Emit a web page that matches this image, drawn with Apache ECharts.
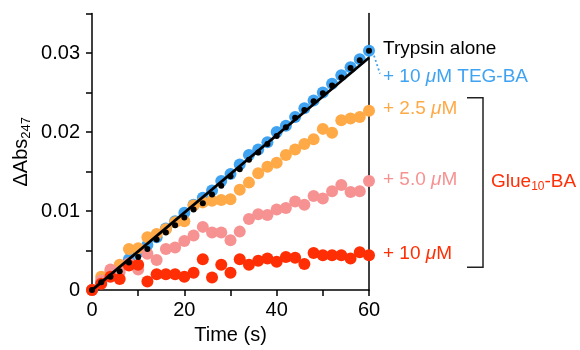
<!DOCTYPE html>
<html>
<head>
<meta charset="utf-8">
<script src="https://cdn.jsdelivr.net/npm/echarts@6/dist/echarts.min.js"></script>
<style>
  html, body { margin: 0; padding: 0; background: #fff; }
  #chart { width: 580px; height: 350px; }
</style>
</head>
<body>
<div id="chart"></div>
<script>
// time points (s)
const times = [0, 2, 4, 6, 8, 10, 12, 14, 16, 18, 20, 22, 24, 26, 28, 30,
  32, 34, 36, 38, 40, 42, 44, 46, 48, 50, 52, 54, 56, 58, 60];

const trypsinAlone = [0, 0.0010, 0.0017, 0.0024, 0.0035, 0.0042, 0.0052, 0.0064, 0.0073, 0.0082, 0.0092,
  0.0102, 0.0110, 0.0121, 0.0132, 0.0144, 0.0153, 0.0165, 0.0174, 0.0185, 0.0195,
  0.0206, 0.0218, 0.0228, 0.0239, 0.0249, 0.0259, 0.0269, 0.0281, 0.0291, 0.0303];

const tegBA10 = [0, 0.0010, 0.0020, 0.0030, 0.0039, 0.0048, 0.0057, 0.0067, 0.0078, 0.0087, 0.0098,
  0.0108, 0.0117, 0.0126, 0.0138, 0.0147, 0.0159, 0.0171, 0.0178, 0.0187, 0.0200,
  0.0208, 0.0219, 0.0230, 0.0240, 0.0250, 0.0261, 0.0272, 0.0282, 0.0292, 0.0303];

const glue2_5 = [0, 0.0017, 0.0024, 0.0032, 0.0052, 0.0053, 0.0067, 0.0071, 0.0077, 0.0086, 0.0087,
  0.0107, 0.0111, 0.0113, 0.0114, 0.0115, 0.0127, 0.0136, 0.0148, 0.0156, 0.0161,
  0.0171, 0.0178, 0.0185, 0.0191, 0.0204, 0.0199, 0.0215, 0.0217, 0.0219, 0.0227];

const glue5_0 = [0, 0.0012, 0.0026, 0.0023, 0.0034, 0.0026, 0.0046, 0.0038, 0.0052, 0.0054, 0.0062,
  0.0069, 0.0080, 0.0073, 0.0073, 0.0063, 0.0074, 0.0090, 0.0096, 0.0095, 0.0102,
  0.0104, 0.0112, 0.0108, 0.0119, 0.0116, 0.0125, 0.0133, 0.0124, 0.0125, 0.0138];

const glue10 = [0, 0.0008, 0.0017, 0.0014, 0.0031, 0.0032, 0.0011, 0.0020, 0.0020, 0.0020, 0.0017,
  0.0022, 0.0039, 0.0016, 0.0032, 0.0022, 0.0039, 0.0032, 0.0037, 0.0040, 0.0036,
  0.0042, 0.0041, 0.0033, 0.0047, 0.0044, 0.0044, 0.0044, 0.0040, 0.0048, 0.0044];

// linear fit of trypsin alone
const fitTimes = [0, 60];
const fitValues = [0, 0.0294];

const yTickLabels = ['0', '0.01', '0.02', '0.03'];
const xTickLabels = ['0', '20', '40', '60'];

const FONT = '"Liberation Sans", Arial, sans-serif';
const colors = {
  black: '#000000',
  blue: '#3FA3F2',
  orange: '#FFA947',
  pink: '#F79292',
  red: '#FF2E05'
};

const pairs = (xs, ys) => xs.map((t, i) => [t, ys[i]]);

const chart = echarts.init(document.getElementById('chart'), null, { renderer: 'canvas' });

const dots = (name, values, color, size, z) => ({
  name,
  type: 'scatter',
  data: pairs(times, values),
  symbolSize: size,
  itemStyle: { color, opacity: 1 },
  z,
  clip: false,
  silent: true
});

const option = {
  animation: false,
  textStyle: { fontFamily: FONT },
  grid: { left: 92, right: 211, top: 13.5, bottom: 59 },
  xAxis: {
    type: 'value',
    min: 0,
    max: 60,
    interval: 10,
    name: 'Time (s)',
    nameLocation: 'middle',
    nameGap: 33,
    nameTextStyle: { fontSize: 20, color: '#000', fontFamily: FONT },
    axisLine: { onZero: false, lineStyle: { color: '#000', width: 1.5 } },
    axisTick: { inside: false, length: 6, lineStyle: { color: '#000', width: 1.5 } },
    axisLabel: {
      fontSize: 20,
      color: '#000',
      margin: 10,
      fontFamily: FONT,
      formatter: (v) => {
        const s = String(Math.round(v));
        return xTickLabels.includes(s) ? s : '';
      }
    },
    splitLine: { show: false }
  },
  yAxis: [
    {
      type: 'value',
      min: 0,
      max: 0.035,
      interval: 0.005,
      name: '{a|ΔAbs}{s|247}',
      nameLocation: 'middle',
      nameGap: 59,
      nameTextStyle: {
        color: '#000',
        rich: {
          a: { fontSize: 20, fontFamily: FONT, color: '#000', lineHeight: 24 },
          s: { fontSize: 13, fontFamily: FONT, color: '#000', lineHeight: 14, verticalAlign: 'bottom' }
        }
      },
      axisLine: { show: true, lineStyle: { color: '#000', width: 1.5 } },
      axisTick: { show: true, inside: false, length: 6, lineStyle: { color: '#000', width: 1.5 } },
      axisLabel: {
        fontSize: 20,
        color: '#000',
        margin: 12,
        fontFamily: FONT,
        formatter: (v) => {
          const k = Math.round(v * 1000);
          if (k % 10 !== 0) return '';
          return yTickLabels[k / 10] || '';
        }
      },
      splitLine: { show: false }
    },
    {
      type: 'value',
      position: 'right',
      min: 0,
      max: 0.035,
      axisLine: { show: true, lineStyle: { color: '#000', width: 1.5 } },
      axisTick: { show: false },
      axisLabel: { show: false },
      splitLine: { show: false }
    }
  ],
  series: [
    dots('+ 10 μM TEG-BA', tegBA10, colors.blue, 12, 2),
    dots('+ 2.5 μM', glue2_5, colors.orange, 12, 3),
    dots('+ 5.0 μM', glue5_0, colors.pink, 12, 4),
    dots('+ 10 μM', glue10, colors.red, 12, 5),
    {
      name: 'fit',
      type: 'line',
      data: pairs(fitTimes, fitValues),
      showSymbol: false,
      lineStyle: { color: colors.black, width: 2.8 },
      z: 6,
      silent: true
    },
    dots('Trypsin alone', trypsinAlone, colors.black, 6, 7)
  ]
};

chart.setOption(option);

// end-of-curve labels, anchored to each series' last point
const last = times.length - 1;
const px = (v) => chart.convertToPixel({ gridIndex: 0 }, [times[last], v]);
const pBlack = px(trypsinAlone[last]);
const pOrange = px(glue2_5[last]);
const pPink = px(glue5_0[last]);
const pRed = px(glue10[last]);

const labelX = pBlack[0] + 14;
const label = (y, text, color, rich) => ({
  type: 'text',
  left: labelX,
  top: y - 11,
  z: 10,
  style: {
    text,
    fill: color,
    font: '19px ' + FONT,
    rich: rich
  }
});
const muRich = (color) => ({
  i: { fontStyle: 'italic', fontSize: 19, fontFamily: FONT, fill: color, color }
});

chart.setOption({
  graphic: [
    label(pBlack[1], 'Trypsin alone', colors.black),
    label(pBlack[1] + 28, '+ 10 {i|μ}M TEG-BA', colors.blue, muRich(colors.blue)),
    label(pOrange[1], '+ 2.5 {i|μ}M', colors.orange, muRich(colors.orange)),
    label(pPink[1], '+ 5.0 {i|μ}M', colors.pink, muRich(colors.pink)),
    label(pRed[1], '+ 10 {i|μ}M', colors.red, muRich(colors.red)),
    {
      type: 'line',
      shape: { x1: pBlack[0] + 5, y1: pBlack[1] + 5, x2: pBlack[0] + 11, y2: pBlack[1] + 23 },
      style: { stroke: colors.blue, lineWidth: 1.8, lineDash: [2, 2.5] },
      z: 10
    },
    {
      // bracket grouping the Glue10-BA series
      type: 'polyline',
      shape: {
        points: [
          [pBlack[0] + 98, pOrange[1] - 13],
          [pBlack[0] + 114, pOrange[1] - 13],
          [pBlack[0] + 114, pRed[1] + 12],
          [pBlack[0] + 98, pRed[1] + 12]
        ]
      },
      style: { stroke: '#222', lineWidth: 1.5, fill: null },
      z: 10
    },
    {
      type: 'text',
      left: pBlack[0] + 122,
      top: (pOrange[1] + pRed[1]) / 2 - 11,
      z: 10,
      style: {
        text: '{a|Glue}{s|10}{a|-BA}',
        rich: {
          a: { fontSize: 19, fontFamily: FONT, fill: colors.red, lineHeight: 22 },
          s: { fontSize: 12, fontFamily: FONT, fill: colors.red, lineHeight: 13, verticalAlign: 'bottom' }
        }
      }
    }
  ]
});
</script>
</body>
</html>
